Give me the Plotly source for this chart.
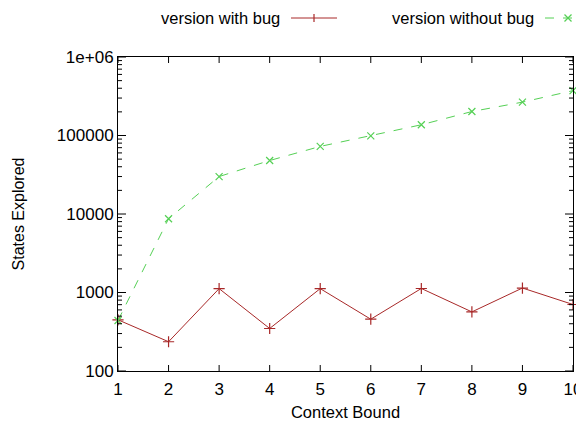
import plotly.graph_objects as go

context_bound = [1, 2, 3, 4, 5, 6, 7, 8, 9, 10]
with_bug = [449, 236, 1120, 348, 1120, 457, 1125, 566, 1140, 703]
without_bug = [440, 8700, 30000, 48000, 72600, 99000, 137000, 202000, 266000, 373000]

y_tickvals = [100, 1000, 10000, 100000, 1000000]
y_ticktext = ["100", "1000", "10000", "100000", "1e+06"]
y_minor = [m * 10 ** e for e in range(2, 6) for m in range(2, 10)]

RED = "#a82828"
GREEN = "#55d055"
FONT = "Liberation Sans"

fig = go.Figure()
fig.add_trace(go.Scatter(
    x=context_bound, y=with_bug, mode="lines+markers", name="version with bug",
    line=dict(color=RED, width=1),
    marker=dict(symbol="cross-thin-open", size=8, color=RED, line=dict(color=RED, width=1.2)),
    cliponaxis=False,
))
fig.add_trace(go.Scatter(
    x=context_bound, y=without_bug, mode="lines+markers", name="version without bug",
    line=dict(color=GREEN, width=1, dash="dash"),
    marker=dict(symbol="x-thin-open", size=7, color=GREEN, line=dict(color=GREEN, width=1.2)),
    cliponaxis=False,
))

# page body has an 8px margin, so the figure sits at (8, 8) in the window
OFF = 8
W, H = 584 - OFF, 426 - OFF
L, T = 118 - OFF, 57 - OFF
R = W - (573 - OFF)
B = H - (371 - OFF)
pw, ph = W - L - R, H - T - B

def px(x):
    return (x - OFF - L) / pw

def py(y):
    return (H - B - (y - OFF)) / ph

shapes = []
annotations = []

# inward tick marks on all four sides, placed through the axes' own scales
tick_line = dict(color="black", width=1)
for v in context_bound:
    for anchor, sign in [(0, 1), (1, -1)]:
        shapes.append(dict(type="line", xref="x", x0=v, x1=v, yref="paper",
                           ysizemode="pixel", yanchor=anchor, y0=0, y1=6 * sign,
                           line=tick_line, layer="above"))
for vals, ln in [(y_tickvals, 8), (y_minor, 4)]:
    for v in vals:
        for anchor, sign in [(0, 1), (1, -1)]:
            shapes.append(dict(type="line", yref="y", y0=v, y1=v, xref="paper",
                               xsizemode="pixel", xanchor=anchor, x0=0, x1=ln * sign,
                               line=tick_line, layer="above"))

legend_items = [
    ("version with bug", 282, 291, 337, RED, "solid", "plus"),
    ("version without bug", 536, 545, 591, GREEN, "dash", "x"),
]
ly = 18
for text, tx, x0, x1, col, dash, mk in legend_items:
    annotations.append(dict(x=px(tx), y=py(ly), xref="paper", yref="paper", text=text,
                            showarrow=False, xanchor="right", yanchor="middle",
                            font=dict(family=FONT, size=16.5, color="black")))
    shapes.append(dict(type="line", xref="paper", yref="paper", x0=px(x0), x1=px(x1),
                       y0=py(ly), y1=py(ly), line=dict(color=col, width=1, dash=dash)))
    cx = (x0 + x1) / 2
    if mk == "plus":
        shapes.append(dict(type="line", xref="paper", yref="paper", x0=px(cx), x1=px(cx),
                           y0=py(ly - 4), y1=py(ly + 4), line=dict(color=col, width=1.2)))
    else:
        shapes.append(dict(type="line", xref="paper", yref="paper", x0=px(cx - 3.5), x1=px(cx + 3.5),
                           y0=py(ly - 3.5), y1=py(ly + 3.5), line=dict(color=col, width=1.2)))
        shapes.append(dict(type="line", xref="paper", yref="paper", x0=px(cx - 3.5), x1=px(cx + 3.5),
                           y0=py(ly + 3.5), y1=py(ly - 3.5), line=dict(color=col, width=1.2)))

fig.update_layout(
    width=W, height=H,
    margin=dict(l=L, r=R, t=T, b=B, autoexpand=False),
    paper_bgcolor="white", plot_bgcolor="white",
    showlegend=False,
    font=dict(family=FONT, size=17, color="black"),
    shapes=shapes, annotations=annotations,
    xaxis=dict(
        range=[1, 10], tickvals=context_bound, ticks="", ticklabelstandoff=3,
        automargin=False,
        showline=True, linecolor="black", linewidth=1, mirror=True,
        showgrid=False, zeroline=False,
        title=dict(text="Context Bound", standoff=8, font=dict(size=16.5)),
        tickfont=dict(size=17),
    ),
    yaxis=dict(
        type="log", range=[2, 6], tickvals=y_tickvals, ticktext=y_ticktext,
        ticks="", ticklabelstandoff=0, automargin=False,
        showline=True, linecolor="black", linewidth=1, mirror=True,
        showgrid=False, zeroline=False,
        title=dict(text="States Explored", standoff=28, font=dict(size=16)),
        tickfont=dict(size=17),
    ),
)

fig.write_html("out.html")
